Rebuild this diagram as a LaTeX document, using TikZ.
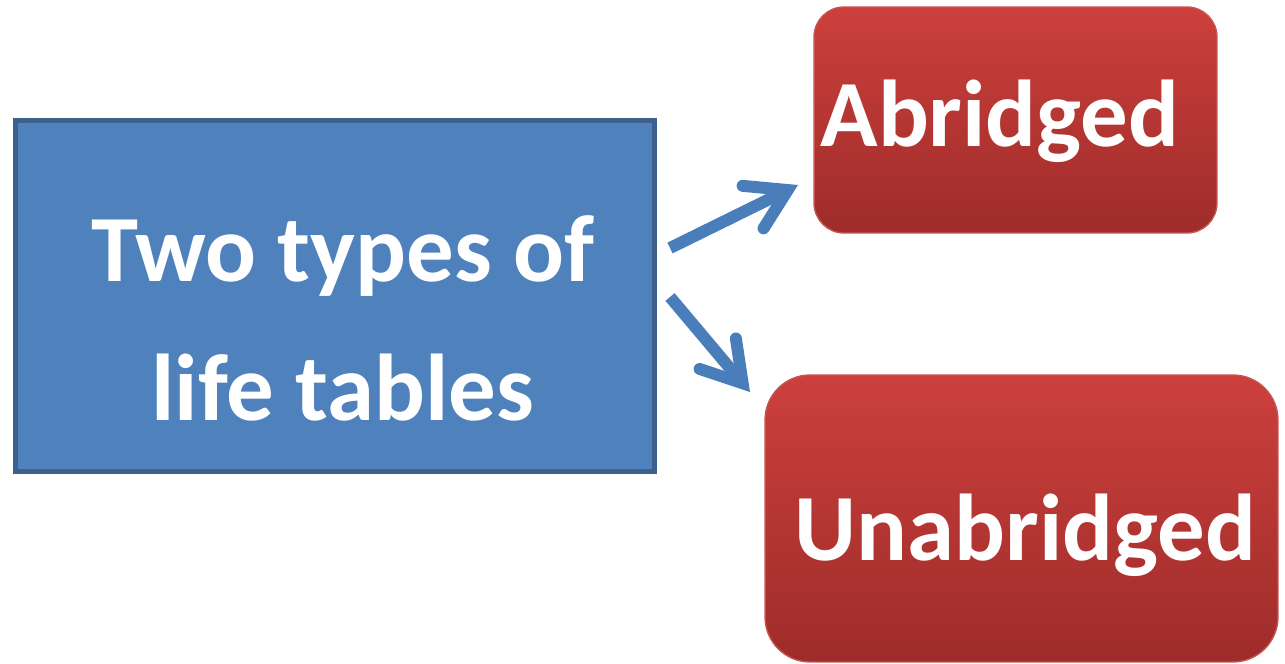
\documentclass[tikz,border=0pt]{standalone}
\usepackage{fontspec}
\setmainfont{Carlito}
\usetikzlibrary{arrows.meta}
\definecolor{boxblue}{RGB}{79,129,189}
\definecolor{boxblueline}{RGB}{60,95,140}
\definecolor{arrowblue}{RGB}{74,126,187}
\definecolor{redtop}{RGB}{204,64,60}
\definecolor{redbottom}{RGB}{158,44,42}
\definecolor{redline}{RGB}{196,84,80}
\tikzset{
  bigtext/.style={text=white,font=\bfseries\fontsize{54pt}{79pt}\selectfont,align=center},
  bluebox/.style={rectangle,draw=boxblueline,line width=2.8pt,fill=boxblue},
  redbox/.style={rectangle,rounded corners=0.6cm,draw=redline,line width=0.8pt,top color=redtop,bottom color=redbottom},
  bluearrow/.style={draw=arrowblue,line width=6.8pt,-{Straight Barb[length=22pt,width=27pt,line cap=round]}}
}
\begin{document}
\begin{tikzpicture}[x=0.02cm,y=-0.02cm]
  \useasboundingbox (0,0) rectangle (1285,663);
  % draw main box
  \node at(335,296)[bluebox,minimum width=12.78cm,minimum height=7.02cm,
    label={[bigtext,xshift=0.16cm,yshift=-0.45cm]center:Two types of\\life tables}](types){};
  % draw "Abridged" box
  \node at(1015.5,120)[redbox,minimum width=8.06cm,minimum height=4.52cm,
    label={[bigtext,xshift=-0.31cm,yshift=-0.03cm]center:Abridged}](abr){};
  % draw "Unabridged" box
  \node at(1021.5,518.5)[redbox,rounded corners=0.9cm,minimum width=10.26cm,minimum height=5.74cm,
    label={[bigtext,xshift=0.08cm,yshift=-0.34cm]center:Unabridged}](unabr){};
  % arrow ends
  \coordinate (abrfrom) at (670,248);
  \coordinate (abrto) at (798,185);
  \coordinate (unabrfrom) at (670,297);
  \coordinate (unabrto) at (750,392);
  % draw arrows from main box to both boxes
  \draw [bluearrow](abrfrom) -- (abrto);
  \draw [bluearrow](unabrfrom) -- (unabrto);
\end{tikzpicture}
\end{document}
